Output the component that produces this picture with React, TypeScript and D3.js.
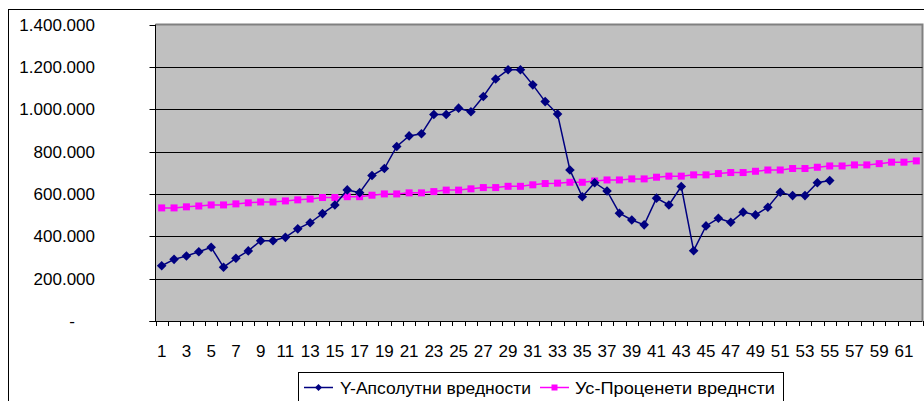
import React from "react";
import * as d3 from "d3";

const categories: number[] = [
  1, 2, 3, 4, 5, 6, 7, 8, 9, 10, 11, 12, 13, 14, 15, 16, 17, 18, 19, 20,
  21, 22, 23, 24, 25, 26, 27, 28, 29, 30, 31, 32, 33, 34, 35, 36, 37, 38, 39, 40,
  41, 42, 43, 44, 45, 46, 47, 48, 49, 50, 51, 52, 53, 54, 55, 56, 57, 58, 59, 60,
  61, 62,
];

const absoluteValues: number[] = [
  261000, 291000, 307000, 327000, 348000, 254000, 296000, 331000, 379000, 379000,
  395000, 435000, 464000, 507000, 548000, 619000, 606000, 687000, 720000, 824000,
  874000, 884000, 975000, 975000, 1005000, 988000, 1060000, 1143000, 1186000, 1186000,
  1115000, 1036000, 977000, 713000, 587000, 653000, 614000, 509000, 477000, 454000,
  580000, 548000, 635000, 332000, 449000, 485000, 466000, 514000, 501000, 537000,
  608000, 592000, 592000, 653000, 663000,
];

const percentValues: number[] = [
  534000, 534000, 539000, 543000, 548000, 548000, 553000, 558000, 562000, 562000,
  567000, 572000, 576000, 583000, 583000, 587000, 587000, 594000, 600000, 600000,
  605000, 605000, 611000, 618000, 618000, 624000, 630000, 630000, 636000, 636000,
  643000, 649000, 651000, 655000, 655000, 661000, 666000, 666000, 671000, 671000,
  679000, 684000, 684000, 690000, 690000, 696000, 701000, 701000, 707000, 713000,
  713000, 720000, 720000, 726000, 732000, 732000, 737000, 737000, 743000, 750000,
  750000, 756000,
];

const yTicks: number[] = [0, 200000, 400000, 600000, 800000, 1000000, 1200000, 1400000];
const xTickLabels: number[] = [
  1, 3, 5, 7, 9, 11, 13, 15, 17, 19, 21, 23, 25, 27, 29, 31, 33, 35, 37, 39, 41,
  43, 45, 47, 49, 51, 53, 55, 57, 59, 61,
];
const seriesNames: string[] = ["Y-Апсолутни вредности", "Ус-Проценети вреднсти"];

const W = 924;
const H = 401;
const plot = { left: 155.5, right: 922.5, top: 24.5, bottom: 321 };
const FONT = "'Liberation Sans', Arial, sans-serif";
const BLUE = "#000080";
const PINK = "#FF00FF";

const locale = d3.formatLocale({
  decimal: ",",
  thousands: ".",
  grouping: [3],
  currency: ["", ""],
});
const fmt = locale.format(",.0f");

export default function App() {
  const x = d3
    .scaleBand<number>()
    .domain(categories)
    .range([plot.left, plot.right])
    .paddingInner(0)
    .paddingOuter(0);
  const y = d3.scaleLinear().domain([0, 1400000]).range([plot.bottom, plot.top]);
  const cx = (c: number) => (x(c) as number) + x.bandwidth() / 2;

  const line = d3
    .line<[number, number]>()
    .x((d) => d[0])
    .y((d) => d[1]);

  const bluePts: [number, number][] = absoluteValues.map((v, i) => [cx(categories[i]), y(v)]);
  const pinkPts: [number, number][] = percentValues.map((v, i) => [cx(categories[i]), y(v)]);

  const diamond = (px: number, py: number, r: number) =>
    `M${px},${py - r}L${px + r},${py}L${px},${py + r}L${px - r},${py}Z`;

  const tickXs = categories.map((c) => x(c) as number).concat([plot.right]);

  return (
    <svg
      width={W}
      height={H}
      style={{ position: "absolute", left: 0, top: 0, background: "#fff" }}
      fontFamily={FONT}
    >
      {/* chart outer border */}
      <rect x={8.5} y={9.5} width={940} height={420} fill="#fff" stroke="#000" strokeWidth={1} />

      {/* plot area */}
      <rect
        x={plot.left}
        y={plot.top}
        width={plot.right - plot.left}
        height={plot.bottom - plot.top}
        fill="#C0C0C0"
      />
      <path
        d={`M${plot.left},${plot.top}H${plot.right}V${plot.bottom}`}
        fill="none"
        stroke="#808080"
        strokeWidth={2}
      />

      {/* gridlines */}
      {yTicks
        .filter((t) => t > 0 && t < 1400000)
        .map((t) => (
          <line
            key={`g${t}`}
            x1={plot.left}
            x2={plot.right}
            y1={Math.round(y(t)) + 0.5}
            y2={Math.round(y(t)) + 0.5}
            stroke="#000"
            strokeWidth={1}
          />
        ))}

      {/* y axis */}
      <line x1={plot.left} x2={plot.left} y1={plot.top} y2={plot.bottom} stroke="#000" strokeWidth={1} />
      {yTicks.map((t) => (
        <g key={`y${t}`}>
          <line
            x1={plot.left - 6}
            x2={plot.left}
            y1={Math.round(y(t)) + 0.5}
            y2={Math.round(y(t)) + 0.5}
            stroke="#000"
          />
          <text
            x={t === 0 ? 72 : 95}
            y={y(t) + 6}
            textAnchor={t === 0 ? "middle" : "end"}
            fontSize={17}
            fill="#000"
          >
            {t === 0 ? "-" : fmt(t)}
          </text>
        </g>
      ))}

      {/* x axis */}
      <line x1={plot.left - 6} x2={plot.right} y1={plot.bottom + 0.5} y2={plot.bottom + 0.5} stroke="#000" />
      {tickXs.map((tx, i) => (
        <line
          key={`xt${i}`}
          x1={Math.round(tx) + 0.5}
          x2={Math.round(tx) + 0.5}
          y1={plot.bottom}
          y2={plot.bottom + 5}
          stroke="#000"
        />
      ))}
      {xTickLabels.map((c) => (
        <text key={`xl${c}`} x={cx(c)} y={357} textAnchor="middle" fontSize={17} fill="#000">
          {c}
        </text>
      ))}

      {/* pink series */}
      <path d={line(pinkPts) || ""} fill="none" stroke={PINK} strokeWidth={1.5} />
      {pinkPts.map(([px, py], i) => (
        <rect key={`p${i}`} x={px - 3.5} y={py - 3.5} width={7} height={7} fill={PINK} />
      ))}

      {/* blue series */}
      <path d={line(bluePts) || ""} fill="none" stroke={BLUE} strokeWidth={1.5} />
      {bluePts.map(([px, py], i) => (
        <path key={`b${i}`} d={diamond(px, py, 4.8)} fill={BLUE} />
      ))}

      {/* legend */}
      <rect x={298.5} y={372.5} width={485} height={40} fill="#fff" stroke="#000" strokeWidth={1} />
      <line x1={304} x2={333} y1={387.5} y2={387.5} stroke={BLUE} strokeWidth={1.5} />
      <path d={diamond(318.5, 387.5, 3.5)} fill={BLUE} />
      <text x={340} y={393.5} fontSize={17} fill="#000" textLength={191} lengthAdjust="spacingAndGlyphs">
        {seriesNames[0]}
      </text>
      <line x1={540} x2={569} y1={387.5} y2={387.5} stroke={PINK} strokeWidth={1.5} />
      <rect x={551.5} y={384.5} width={6} height={6} fill={PINK} />
      <text x={575} y={393.5} fontSize={17} fill="#000" textLength={200} lengthAdjust="spacingAndGlyphs">
        {seriesNames[1]}
      </text>
    </svg>
  );
}
